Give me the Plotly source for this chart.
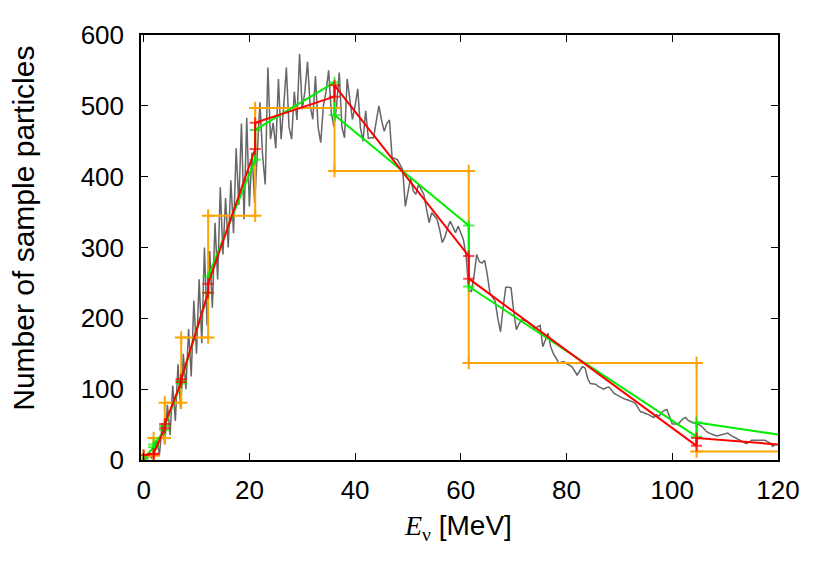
import numpy as np
import plotly.graph_objects as go

# ---- data ----
bin_width = 0.5
gray_counts = [
    0, 2, 6, 3, 12, 28, 8, 52, 22, 78,              # 0-5
    35, 105, 55, 135, 72, 150, 100, 185, 118, 225,  # 5-10
    150, 255, 165, 300, 190, 295, 215, 335, 255, 385,  # 10-15
    290, 370, 300, 395, 320, 440, 360, 475, 340, 483,  # 15-20
    358, 434, 363, 440, 505, 430, 389, 554, 453, 476,  # 20-25
    440, 538, 453, 500, 554, 470, 453, 520, 480, 573,  # 25-30
    495, 520, 562, 500, 481, 542, 470, 448, 500, 520,  # 30-35
    550, 490, 470, 500, 547, 470, 455, 538, 510, 481,  # 35-40
    500, 524, 470, 450, 493, 454, 455, 455, 478, 500,  # 40-45
    480, 464, 475, 480, 427, 425, 424, 417, 410, 358,  # 45-50
    380, 398, 380, 375, 389, 382, 375, 355, 335, 349,  # 50-55
    345, 340, 325, 307, 315, 328, 337, 328, 321, 330,  # 55-60
    320, 311, 288, 240, 238, 260, 290, 280, 278, 282,  # 60-65
    262, 236, 230, 224, 200, 181, 215, 244, 244, 243,  # 65-70
    210, 184, 192, 198, 197, 196, 192, 190, 186, 188,  # 70-75
    190, 160, 170, 179, 160, 150, 144, 137, 138, 139,  # 75-80
    136, 134, 132, 126, 120, 126, 132, 130, 115, 108,  # 80-85
    108, 107, 104, 102, 100, 102, 103, 99, 94, 92,     # 85-90
    90, 87, 86, 85, 84, 82, 80, 74, 68, 67,            # 90-95
    66, 64, 62, 60, 64, 62, 67, 70, 71, 62,            # 95-100
    51, 51, 50, 54, 58, 60, 56, 54, 52, 51,            # 100-105
    50, 48, 44, 40, 38, 36, 35, 34, 35, 37,            # 105-110
    38, 38, 35, 33, 31, 29, 26, 24, 23, 25,            # 110-115
    28, 28, 28, 28, 28, 28, 26, 24, 19, 22,            # 115-120
]

bin_edges = [0.0, 1.9, 4.0, 7.1, 12.2, 21.1, 36.1, 61.5, 104.6, 178.0]
hist_values = [6, 31, 81, 173, 345, 497, 408, 137, 12]

line_edges = [0.0, 1.9, 4.0, 7.1, 12.2, 21.1, 36.1, 61.5, 104.6, 120.0]
red_start = [7, 9, 51, 114, 249, 476, 529, 256, 31]
red_end = [8, 45, 110, 236, 439, 513, 288, 20, 22]
green_start = [2, 22, 48, 112, 259, 466, 487, 245, 53]
green_end = [18, 42, 108, 236, 424, 533, 331, 33, 36]

x_ticks = [0, 20, 40, 60, 80, 100, 120]
y_ticks = [0, 100, 200, 300, 400, 500, 600]

# ---- build ----
gray_x = np.arange(len(gray_counts)) * bin_width

hx, hy = [], []
for i, v in enumerate(hist_values):
    hx += [bin_edges[i], bin_edges[i + 1]]
    hy += [v, v]


def piecewise(edges, starts, ends):
    xs, ys = [], []
    for i in range(len(starts)):
        xs += [edges[i], edges[i + 1]]
        ys += [starts[i], ends[i]]
    return xs, ys


rx, ry = piecewise(line_edges, red_start, red_end)
gx, gy = piecewise(line_edges, green_start, green_end)
msize = [8] * (len(rx) - 1) + [0]

fig = go.Figure()
fig.add_trace(go.Scatter(x=gray_x, y=gray_counts, mode="lines",
                         line=dict(color="#666666", width=1.5), showlegend=False))
fig.add_trace(go.Scatter(x=hx, y=hy, mode="lines+markers",
                         line=dict(color="#ffa500", width=2),
                         marker=dict(symbol="cross-thin", size=9,
                                     line=dict(color="#ffa500", width=2)),
                         showlegend=False))
fig.add_trace(go.Scatter(x=gx, y=gy, mode="lines+markers",
                         line=dict(color="#00ee00", width=2),
                         marker=dict(symbol="cross-thin", size=msize,
                                     line=dict(color="#00ee00", width=2)),
                         showlegend=False))
fig.add_trace(go.Scatter(x=rx, y=ry, mode="lines+markers",
                         line=dict(color="#ff0000", width=2),
                         marker=dict(symbol="cross-thin", size=msize,
                                     line=dict(color="#ff0000", width=2)),
                         showlegend=False))

axis_common = dict(showline=True, linecolor="black", linewidth=1.5,
                   mirror="ticks", ticks="inside", ticklen=7,
                   tickwidth=1.2, tickcolor="black", showgrid=False,
                   zeroline=False, automargin=False,
                   tickfont=dict(family="Liberation Sans", size=26, color="black"))

fig.update_layout(
    width=830, height=581,
    margin=dict(l=141, r=52, t=35, b=121),
    paper_bgcolor="white", plot_bgcolor="white",
    xaxis=dict(range=[-0.5, 120], tickvals=x_ticks, ticktext=[str(t) for t in x_ticks],
               ticklabelstandoff=6, **axis_common),
    yaxis=dict(range=[0, 600], tickvals=y_ticks, ticktext=[str(t) for t in y_ticks],
               ticklabelstandoff=10, **axis_common),
    annotations=[
        dict(text="<span style=\"font-family:'Liberation Serif'\"><i>E</i><sub>ν</sub></span> [MeV]",
             xref="paper", yref="paper", x=0.497, y=-0.158,
             xanchor="center", yanchor="middle", showarrow=False,
             font=dict(family="Liberation Sans", size=28, color="black")),
        dict(text="Number of sample particles", textangle=-90,
             xref="paper", yref="paper", x=-0.184, y=0.546,
             xanchor="center", yanchor="middle", showarrow=False,
             font=dict(family="Liberation Sans", size=30, color="black")),
    ],
)

fig.write_html("out.html",
               config={"displayModeBar": False},
               post_script="document.body.style.margin='0';document.body.style.overflow='hidden';")
